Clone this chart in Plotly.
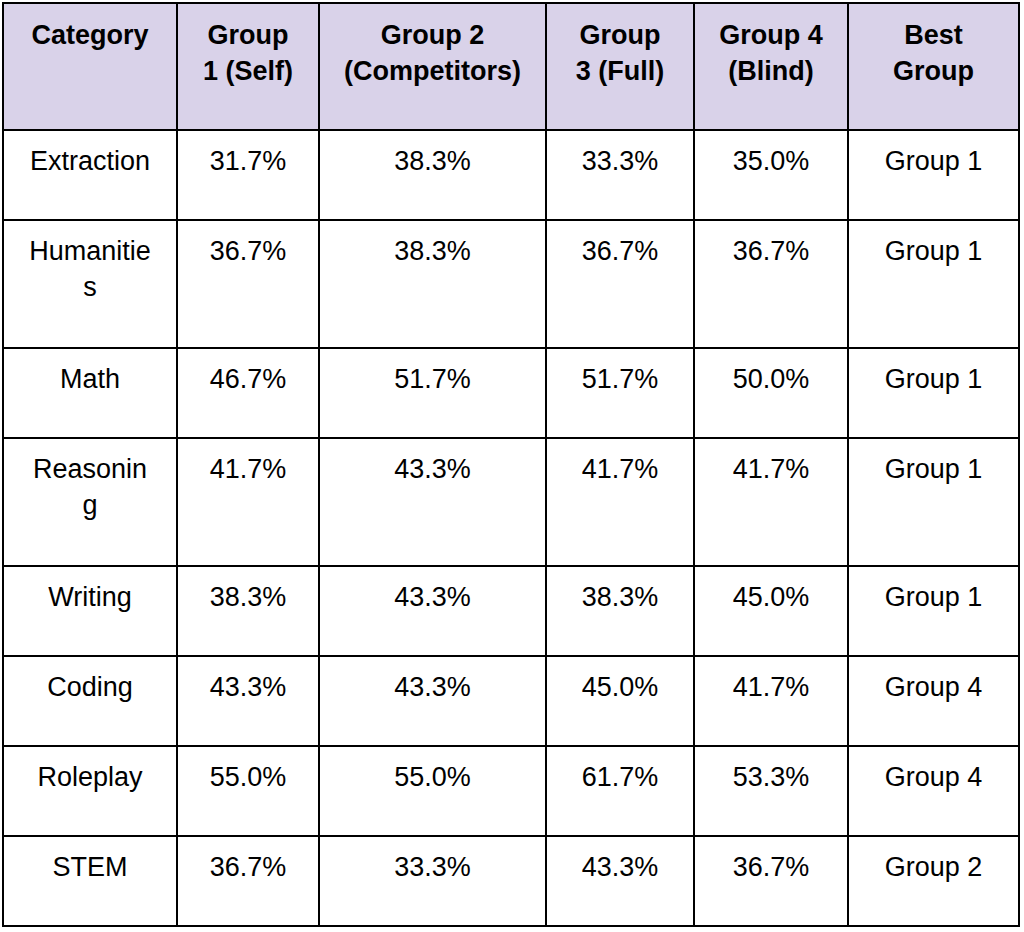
import plotly.graph_objects as go

# ---- data ----
headers = ["Category", "Group<br>1 (Self)", "Group 2<br>(Competitors)",
           "Group<br>3 (Full)", "Group 4<br>(Blind)", "Best<br>Group"]
categories = ["Extraction", "Humanitie<br>s", "Math", "Reasonin<br>g",
              "Writing", "Coding", "Roleplay", "STEM"]
group1 = [31.7, 36.7, 46.7, 41.7, 38.3, 43.3, 55.0, 36.7]
group2 = [38.3, 38.3, 51.7, 43.3, 43.3, 43.3, 55.0, 33.3]
group3 = [33.3, 36.7, 51.7, 41.7, 38.3, 45.0, 61.7, 43.3]
group4 = [35.0, 36.7, 50.0, 41.7, 45.0, 41.7, 53.3, 36.7]
best_group = ["Group 1", "Group 1", "Group 1", "Group 1",
              "Group 1", "Group 4", "Group 4", "Group 2"]

# ---- styling ----
col_widths = [174, 142, 227, 148, 154, 171]
FONT = "Liberation Sans, Arial, sans-serif"
TEXT_SIZE = 27     # visible glyph size
BASE_SIZE = 28     # base size (controls line spacing = 1.3 * base)
HEADER_PAD = 37    # spacer font size pushing first line down (header)
BODY_PAD = 35      # spacer font size pushing first line down (body)
EXTRA_PAD = 35     # spacer line for wrapped rows
NBSP_EM = 569 / 2048

# Arial / Liberation Sans advance widths (per 1000 em)
REG_W = {" ": 278, "(": 333, ")": 333, "%": 889, ".": 278,
         "H": 722, "R": 722, "a": 556, "e": 556, "g": 556, "i": 222,
         "m": 833, "n": 556, "o": 556, "s": 500, "t": 278, "u": 556}
BOLD_W = {" ": 278, "(": 333, ")": 333, "B": 722, "C": 722, "F": 611,
          "G": 778, "S": 667, "a": 556, "d": 611, "e": 556, "f": 333,
          "i": 278, "l": 278, "m": 889, "n": 611, "o": 611, "p": 611,
          "r": 389, "s": 556, "t": 333, "u": 611, "y": 556, "g": 611}


def text_w(s, bold):
    tbl = BOLD_W if bold else REG_W
    return sum(tbl.get(ch, 556) for ch in s) / 1000 * TEXT_SIZE


def span(px, inner):
    return f'<span style="font-size:{px:.2f}px">{inner}</span>'


def hpad(px):
    """Run of non-breaking spaces with a total advance of ~px."""
    if px < 0.3:
        return ""
    unit = NBSP_EM * TEXT_SIZE
    n = int(px // unit)
    rem = px - n * unit
    out = span(TEXT_SIZE, "&nbsp;" * n) if n else ""
    if rem > 0.3:
        out += span(rem / NBSP_EM, "&nbsp;")
    return out


def fmt(text, vpad, bold=False, tall=False):
    lines = text.split("<br>")
    vs = span(vpad, "&nbsp;")
    vs_w = NBSP_EM * vpad
    widths = [text_w(ln, bold) for ln in lines]
    totals = [w + (2 * vs_w if i == 0 else 0) for i, w in enumerate(widths)]
    block = max(totals)
    out_lines = []
    for i, ln in enumerate(lines):
        content = span(TEXT_SIZE, ln)
        if bold:
            content = f"<b>{content}</b>"
        lead = hpad((block - totals[i]) / 2) if len(lines) > 1 else ""
        if i == 0:
            content = vs + content + vs
        out_lines.append(lead + content)
    out = "<br>".join(out_lines)
    out += ("<br>" + span(EXTRA_PAD, "&nbsp;")) if tall else "<br>"
    return out


header_vals = [fmt(h, HEADER_PAD, bold=True) for h in headers]

two_line = ["<br>" in c for c in categories]
cat_col = [fmt(c, BODY_PAD, tall=t) for c, t in zip(categories, two_line)]


def pct_col(vals):
    return [fmt(f"{v:.1f}%", BODY_PAD) for v in vals]


best_col = [fmt(b, BODY_PAD) for b in best_group]

cells = [cat_col, pct_col(group1), pct_col(group2), pct_col(group3),
         pct_col(group4), best_col]

fig = go.Figure(go.Table(
    columnwidth=col_widths,
    header=dict(
        values=header_vals,
        fill_color="#d9d2e9",
        line=dict(color="black", width=2),
        align="center",
        height=127,
        font=dict(family=FONT, size=BASE_SIZE, color="black"),
    ),
    cells=dict(
        values=cells,
        fill_color="white",
        line=dict(color="black", width=2),
        align="center",
        height=90,
        font=dict(family=FONT, size=BASE_SIZE, color="black"),
    ),
))

fig.update_layout(
    width=1024, height=932,
    margin=dict(l=3, r=5, t=3, b=3),
    paper_bgcolor="white",
)

fig.write_html("out.html",
               config={"displayModeBar": False},
               post_script="document.body.style.margin='0px';")
